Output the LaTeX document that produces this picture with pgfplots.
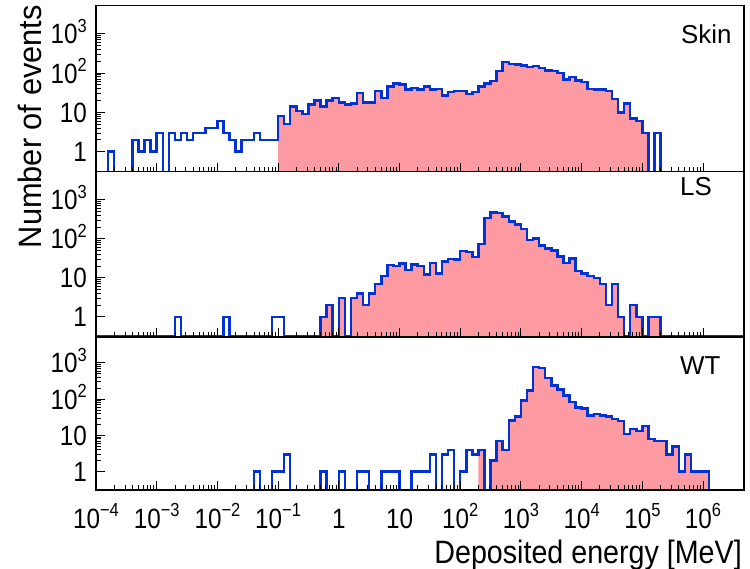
\documentclass[border=0pt]{standalone}
\usepackage{fontspec}
\setmainfont{Liberation Sans}
\newfontfamily\tickfont{Liberation Sans}[FakeStretch=0.87]
\newfontfamily\titlefont{Liberation Sans}[FakeStretch=0.885]
\newfontfamily\ylabfont{Liberation Sans}[FakeStretch=0.95]
\usepackage{pgfplots}
\usepackage{pgfplotstable}
\pgfplotsset{compat=1.18}
\definecolor{histblue}{RGB}{0,50,215}
\definecolor{histpink}{RGB}{254,154,162}
\newcommand{\tk}[1]{{\tickfont\fontsize{28}{30}\selectfont #1}}
\newcommand{\ex}[1]{\raisebox{11.5pt}{\fontsize{19}{20}\selectfont #1}}

% Skin: outline (bin low edge in log10(E/MeV), counts; 0.2 = empty bin, below axis)
\pgfplotstableread{
e v
-4.0 0.2
-3.8 1
-3.7 0.2
-3.4 2
-3.3 1
-3.2 2
-3.1 1
-3.0 3
-2.9 0.2
-2.8 3
-2.7 2
-2.6 3
-2.5 2
-2.4 3
-2.3 3
-2.2 4
-2.1 4
-2.0 6
-1.9 3
-1.8 2
-1.7 1
-1.6 2
-1.5 2
-1.4 3
-1.3 2
-1.2 2
-1.1 2
-1.0 8
-0.9 5
-0.8 14
-0.7 11
-0.6 9
-0.5 16
-0.4 20
-0.3 14
-0.2 20
-0.1 23
0.0 18
0.1 16
0.2 17
0.3 31
0.4 18
0.5 18
0.6 35
0.7 23
0.8 46
0.9 55
1.0 52
1.1 38
1.2 42
1.3 38
1.4 46
1.5 38
1.6 40
1.7 27
1.8 33
1.9 35
2.0 35
2.1 29
2.2 33
2.3 46
2.4 54
2.5 63
2.6 112
2.7 190
2.8 172
2.9 166
3.0 156
3.1 141
3.2 150
3.3 136
3.4 117
3.5 112
3.6 100
3.7 68
3.8 79
3.9 65
4.0 59
4.1 40
4.2 38
4.3 38
4.4 35
4.5 22
4.6 10
4.7 17
4.8 7
4.9 6
5.0 3
5.1 0.2
5.2 3
5.3 0.2
6.675 0.2
}\skinline

\pgfplotstableread{
e v
-1.0 0.31
-1.0 8
-0.9 5
-0.8 14
-0.7 11
-0.6 9
-0.5 16
-0.4 20
-0.3 14
-0.2 20
-0.1 23
0.0 18
0.1 16
0.2 17
0.3 31
0.4 18
0.5 18
0.6 35
0.7 23
0.8 46
0.9 55
1.0 52
1.1 38
1.2 42
1.3 38
1.4 46
1.5 38
1.6 40
1.7 27
1.8 33
1.9 35
2.0 35
2.1 29
2.2 33
2.3 46
2.4 54
2.5 63
2.6 112
2.7 190
2.8 172
2.9 166
3.0 156
3.1 141
3.2 150
3.3 136
3.4 117
3.5 112
3.6 100
3.7 68
3.8 79
3.9 65
4.0 59
4.1 40
4.2 38
4.3 38
4.4 35
4.5 22
4.6 10
4.7 17
4.8 7
4.9 6
5.0 3
5.1 3
5.1 0.31
}\skinfill

% LS (0.31 = empty bin, drawn along the axis)
\pgfplotstableread{
e v
-4.0 0.31
-2.7 1
-2.6 0.31
-1.9 1
-1.8 0.31
-1.1 1
-1.0 1
-0.9 0.31
-0.3 1
-0.2 2
-0.1 0.31
0.0 3
0.1 0.31
0.2 3
0.3 4
0.4 2
0.5 4
0.6 7
0.7 11
0.8 21
0.9 20
1.0 23
1.1 16
1.2 22
1.3 20
1.4 12
1.5 24
1.6 13
1.7 26
1.8 30
1.9 29
2.0 49
2.1 46
2.2 34
2.3 74
2.4 338
2.5 473
2.6 454
2.7 374
2.8 277
2.9 229
3.0 177
3.1 94
3.2 100
3.3 67
3.4 57
3.5 50
3.6 35
3.7 24
3.8 31
3.9 15
4.0 13
4.1 11
4.2 10
4.3 7
4.4 2
4.5 7
4.6 1
4.7 0.31
4.8 2
4.9 1
5.0 0.31
5.1 1
5.2 1
5.3 0.31
6.675 0.31
}\lsline

\pgfplotstableread{
e v
-0.3 0.31
-0.3 1
-0.2 2
-0.1 0.31
0.0 3
0.1 0.31
0.2 3
0.3 4
0.4 2
0.5 4
0.6 7
0.7 11
0.8 21
0.9 20
1.0 23
1.1 16
1.2 22
1.3 20
1.4 12
1.5 24
1.6 13
1.7 26
1.8 30
1.9 29
2.0 49
2.1 46
2.2 34
2.3 74
2.4 338
2.5 473
2.6 454
2.7 374
2.8 277
2.9 229
3.0 177
3.1 94
3.2 100
3.3 67
3.4 57
3.5 50
3.6 35
3.7 24
3.8 31
3.9 15
4.0 13
4.1 11
4.2 10
4.3 7
4.4 2
4.5 7
4.6 1
4.7 0.31
4.8 2
4.9 1
5.0 0.31
5.1 1
5.2 1
5.3 1
5.3 0.31
}\lsfill

% WT (0.2 = empty bin, below axis)
\pgfplotstableread{
e v
-4.0 0.2
-1.4 1
-1.3 0.2
-1.1 1
-1.0 1
-0.9 3
-0.8 0.2
-0.3 1
-0.2 0.2
0.0 1
0.1 0.2
0.3 1
0.4 1
0.5 0.2
0.7 1
0.8 1
0.9 1
1.0 0.2
1.2 1
1.3 1
1.4 1
1.5 3
1.6 0.2
1.7 3
1.8 4
1.9 0.2
2.0 1
2.1 4
2.2 3
2.3 4
2.4 0.2
2.5 2
2.6 7
2.7 4
2.8 26
2.9 33
3.0 92
3.1 174
3.2 776
3.3 727
3.4 383
3.5 240
3.6 182
3.7 126
3.8 83
3.9 59
4.0 55
4.1 35
4.2 39
4.3 35
4.4 33
4.5 28
4.6 25
4.7 11
4.8 15
4.9 13
5.0 18
5.1 8
5.2 7
5.3 7
5.4 3
5.5 5
5.6 1
5.7 3
5.8 1
5.9 1
6.0 1
6.1 0.2
6.675 0.2
}\wtline

\pgfplotstableread{
e v
2.3 0.31
2.3 4
2.4 0.31
2.5 2
2.6 7
2.7 4
2.8 26
2.9 33
3.0 92
3.1 174
3.2 776
3.3 727
3.4 383
3.5 240
3.6 182
3.7 126
3.8 83
3.9 59
4.0 55
4.1 35
4.2 39
4.3 35
4.4 33
4.5 28
4.6 25
4.7 11
4.8 15
4.9 13
5.0 18
5.1 8
5.2 7
5.3 7
5.4 3
5.5 5
5.6 1
5.7 3
5.8 1
5.9 1
6.0 1
6.1 1
6.1 0.31
}\wtfill

\pgfplotsset{histpanel/.style={
  scale only axis, width=648bp,
  anchor=south west,
  xmin=1e-4, xmax=4.73e6, ymin=0.31, ymax=5200,
  axis on top,
  axis line style={line width=1.4bp, black},
  every tick/.style={line width=0.9bp, black},
  major tick length=9bp, minor tick length=5bp,
  tick align=inside,
  xtick pos=left, ytick pos=left,
  xtick={1e-4,1e-3,1e-2,1e-1,1,10,100,1e3,1e4,1e5,1e6},
  ytick={1,10,100,1000},
  yticklabels={\tk{1},\tk{10},\tk{10\ex{2}},\tk{10\ex{3}}},
  yticklabel style={anchor=base east, inner sep=0pt, xshift=-9bp, yshift=-10bp},
  xticklabel style={anchor=base, inner sep=0pt, yshift=-38bp},
}}

\begin{document}
\begin{tikzpicture}
\useasboundingbox (0,0) rectangle (750bp,569bp);
\begin{loglogaxis}[histpanel, at={(96bp,397.3bp)}, height=166bp, xticklabels={}]
\addplot[const plot, fill=histpink, draw=none] table[x expr=10^(\thisrow{e}), y=v] {\skinfill};
\addplot[const plot, draw=histblue, line width=2.5bp] table[x expr=10^(\thisrow{e}), y=v] {\skinline};
\end{loglogaxis}
\begin{loglogaxis}[histpanel, at={(96bp,232.3bp)}, height=165bp, xticklabels={}]
\addplot[const plot, fill=histpink, draw=none] table[x expr=10^(\thisrow{e}), y=v] {\lsfill};
\addplot[const plot, draw=histblue, line width=2.5bp] table[x expr=10^(\thisrow{e}), y=v] {\lsline};
\end{loglogaxis}
\begin{loglogaxis}[histpanel, at={(96bp,79bp)}, height=153bp,
  xticklabels={\tk{10\ex{−4}},\tk{10\ex{−3}},\tk{10\ex{−2}},\tk{10\ex{−1}},\tk{1},\tk{10},\tk{10\ex{2}},\tk{10\ex{3}},\tk{10\ex{4}},\tk{10\ex{5}},\tk{10\ex{6}}}]
\addplot[const plot, fill=histpink, draw=none] table[x expr=10^(\thisrow{e}), y=v] {\wtfill};
\addplot[const plot, draw=histblue, line width=2.5bp] table[x expr=10^(\thisrow{e}), y=v] {\wtline};
\end{loglogaxis}
\node[anchor=base west, inner sep=0pt] at (681bp,525.7bp) {\fontsize{26}{28}\selectfont Skin};
\node[anchor=base west, inner sep=0pt] at (680bp,373bp) {\fontsize{26}{28}\selectfont LS};
\node[anchor=base west, inner sep=0pt] at (680bp,194bp) {\fontsize{26}{28}\selectfont WT};
\node[anchor=base east, inner sep=0pt] at (742bp,6bp) {\titlefont\fontsize{32.5}{34}\selectfont Deposited energy [MeV]};
\node[rotate=90, anchor=base, inner sep=0pt] at (41.7bp,442.3bp) {\ylabfont\fontsize{32.5}{34}\selectfont Number of events};
\end{tikzpicture}
\end{document}
